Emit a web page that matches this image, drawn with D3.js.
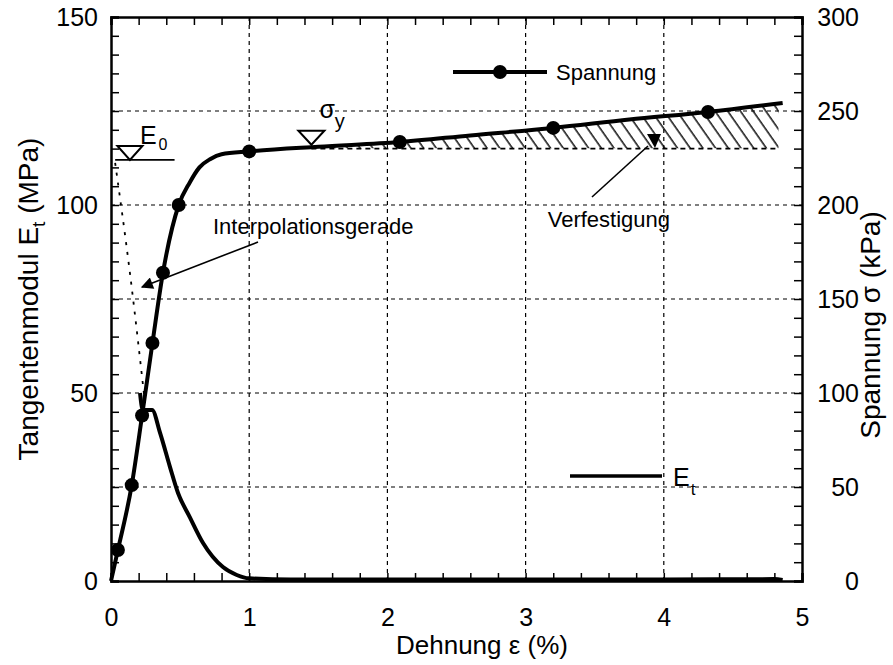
<!DOCTYPE html>
<html>
<head>
<meta charset="utf-8">
<script src="https://cdn.jsdelivr.net/npm/d3@7"></script>
<style>
  body { margin: 0; background: #fff; }
  text { font-family: "Liberation Sans", Arial, Helvetica, sans-serif; fill: #000; }
</style>
</head>
<body>
<div id="chart"></div>
<script>
// Spannung curve (strain %, stress kPa)
const sStrain = [0, 0.05, 0.15, 0.225, 0.30, 0.376, 0.49, 0.57, 0.64, 0.72, 0.80, 1.0, 1.5, 2.09, 2.6, 3.2, 3.75, 4.32, 4.86];
const sStress = [0, 16.5, 51, 88, 126.6, 164, 200, 212, 220, 224.5, 227, 228.5, 231, 233.5, 237, 241, 245.5, 249.5, 254.3];
// measured points with markers
const mStrain = [0.05, 0.15, 0.225, 0.30, 0.376, 0.49, 1.0, 2.09, 3.2, 4.32];
const mStress = [16.5, 51, 88, 126.6, 164, 200, 228.5, 233.5, 241, 249.5];
// tangent modulus (strain %, MPa)
const eStrain = [0.21, 0.23, 0.297, 0.355, 0.427, 0.485, 0.57, 0.666, 0.81, 0.91, 1.0, 1.3, 2, 3, 4, 4.8, 4.86];
const eModul = [50, 45.5, 45.5, 39.4, 30.3, 23.4, 17, 10.1, 3.7, 1.6, 0.7, 0.4, 0.4, 0.4, 0.4, 0.5, 0.3];
// interpolation line (dotted)
const iStrain = [0.03, 0.137, 0.246];
const iModul = [111.2, 81.9, 47.3];
// markers and hatched hardening zone
const e0 = 112, e0Strain = 0.137, e0LineFrom = 0.03, e0LineTo = 0.46;
const yieldStrain = 1.45, yieldStress = 230.5;
const hatchFrom = 1.45, hatchTo = 4.83, hatchBase = 230;

const xTicks = d3.range(0, 5.001, 0.2);
const xLabels = [0, 1, 2, 3, 4, 5];
const eTicks = d3.range(0, 150.1, 5);
const eLabels = [0, 50, 100, 150];
const sTicks = d3.range(0, 300.1, 10);
const sLabels = [0, 50, 100, 150, 200, 250, 300];
const gridX = [1, 2, 3, 4];
const gridS = [50, 100, 150, 200, 250];

const width = 893, height = 665;
const margin = {top: 17, right: 91, bottom: 84, left: 111};

const x = d3.scaleLinear().domain([0, 5]).range([margin.left, width - margin.right]);
const yE = d3.scaleLinear().domain([0, 150]).range([height - margin.bottom, margin.top]);
const yS = d3.scaleLinear().domain([0, 300]).range([height - margin.bottom, margin.top]);

const svg = d3.select("#chart").append("svg")
  .attr("width", width)
  .attr("height", height)
  .attr("viewBox", [0, 0, width, height]);

const defs = svg.append("defs");
defs.append("pattern")
    .attr("id", "hatch")
    .attr("patternUnits", "userSpaceOnUse")
    .attr("width", 10.4)
    .attr("height", 10.4)
    .attr("patternTransform", "rotate(-35)")
  .append("line")
    .attr("x1", 2).attr("y1", 0).attr("x2", 2).attr("y2", 10.4)
    .attr("stroke", "#000")
    .attr("stroke-width", 1.4);
defs.append("clipPath")
    .attr("id", "hatchClip")
  .append("rect")
    .attr("x", x(hatchFrom))
    .attr("y", margin.top)
    .attr("width", x(hatchTo) - x(hatchFrom))
    .attr("height", yS(hatchBase) - margin.top);
defs.append("marker")
    .attr("id", "arrow")
    .attr("viewBox", "0 -5 10 10")
    .attr("refX", 9)
    .attr("refY", 0)
    .attr("markerUnits", "userSpaceOnUse")
    .attr("markerWidth", 14)
    .attr("markerHeight", 12)
    .attr("orient", "auto")
  .append("path")
    .attr("d", "M0,-5L10,0L0,5Z")
    .attr("fill", "#000");

const x0 = margin.left, x1 = width - margin.right;
const y0 = height - margin.bottom, y1 = margin.top;

// grid
svg.append("g")
    .attr("stroke", "#000")
    .attr("stroke-width", 1.2)
    .attr("stroke-dasharray", "4,4")
  .call(g => g.selectAll(".gx")
    .data(gridX)
    .join("line")
      .attr("x1", d => x(d)).attr("x2", d => x(d))
      .attr("y1", y0).attr("y2", y1))
  .call(g => g.selectAll(".gy")
    .data(gridS)
    .join("line")
      .attr("x1", x0).attr("x2", x1)
      .attr("y1", d => yS(d)).attr("y2", d => yS(d)));

// hatched zone
const sData = sStrain.map((d, i) => ({x: d, y: sStress[i]}));
svg.append("path")
  .datum(sData)
  .attr("clip-path", "url(#hatchClip)")
  .attr("fill", "url(#hatch)")
  .attr("d", d3.area().curve(d3.curveMonotoneX)
    .x(d => x(d.x)).y0(yS(hatchBase)).y1(d => yS(d.y)));
svg.append("line")
  .attr("x1", x(hatchFrom)).attr("x2", x(hatchTo))
  .attr("y1", yS(hatchBase)).attr("y2", yS(hatchBase))
  .attr("stroke", "#000")
  .attr("stroke-width", 1.6)
  .attr("stroke-dasharray", "5,4");

// interpolation line
svg.append("path")
  .datum(iStrain.map((d, i) => ({x: d, y: iModul[i]})))
  .attr("fill", "none")
  .attr("stroke", "#000")
  .attr("stroke-width", 1.8)
  .attr("stroke-dasharray", "3,7")
  .attr("d", d3.line().curve(d3.curveMonotoneX).x(d => x(d.x)).y(d => yE(d.y)));

// E_t curve
svg.append("path")
  .datum(eStrain.map((d, i) => ({x: d, y: eModul[i]})))
  .attr("fill", "none")
  .attr("stroke", "#000")
  .attr("stroke-width", 4)
  .attr("stroke-linejoin", "round")
  .attr("d", d3.line().curve(d3.curveMonotoneX).x(d => x(d.x)).y(d => yE(d.y)));

// Spannung curve
svg.append("path")
  .datum(sData)
  .attr("fill", "none")
  .attr("stroke", "#000")
  .attr("stroke-width", 4)
  .attr("stroke-linejoin", "round")
  .attr("d", d3.line().curve(d3.curveMonotoneX).x(d => x(d.x)).y(d => yS(d.y)));

svg.append("g")
  .selectAll("circle")
  .data(mStrain.map((d, i) => ({x: d, y: mStress[i]})))
  .join("circle")
    .attr("cx", d => x(d.x))
    .attr("cy", d => yS(d.y))
    .attr("r", 7)
    .attr("fill", "#000");

// axes with inward ticks
const axisStyle = g => g
  .call(g => g.selectAll(".tick line").attr("stroke-width", 1.5))
  .call(g => g.selectAll("text").attr("font-size", 25))
  .call(g => g.select(".domain").attr("stroke-width", 2.5));

svg.append("g")
  .attr("transform", `translate(0,${y0})`)
  .call(d3.axisBottom(x).tickValues(xTicks).tickSize(-8).tickPadding(27)
    .tickFormat(d => xLabels.some(v => Math.abs(v - d) < 1e-6) ? d3.format("d")(d) : ""))
  .call(axisStyle);
svg.append("g")
  .attr("transform", `translate(0,${y1})`)
  .call(d3.axisTop(x).tickValues(xTicks).tickSize(-8).tickFormat(""))
  .call(axisStyle);
svg.append("g")
  .attr("transform", `translate(${x0},0)`)
  .call(d3.axisLeft(yE).tickValues(eTicks).tickSize(-8).tickPadding(13)
    .tickFormat(d => eLabels.includes(d) ? d : ""))
  .call(axisStyle);
svg.append("g")
  .attr("transform", `translate(${x1},0)`)
  .call(d3.axisRight(yS).tickValues(sTicks).tickSize(-8)
    .tickFormat(d => sLabels.includes(d) ? d : ""))
  .call(axisStyle)
  .call(g => g.selectAll("text").attr("text-anchor", "end").attr("x", 57));

// axis titles
svg.append("text")
  .attr("x", 482)
  .attr("y", 654)
  .attr("text-anchor", "middle")
  .attr("font-size", 26)
  .text("Dehnung \u03b5  (%)");

const leftTitle = svg.append("text")
  .attr("transform", `translate(38,${299}) rotate(-90)`)
  .attr("text-anchor", "middle")
  .attr("font-size", 28);
leftTitle.append("tspan").text("Tangentenmodul E");
leftTitle.append("tspan").attr("font-size", 19).attr("dy", 7).text("t");
leftTitle.append("tspan").attr("dy", -7).text(" (MPa)");

svg.append("text")
  .attr("transform", `translate(880,${325}) rotate(-90)`)
  .attr("text-anchor", "middle")
  .attr("font-size", 28)
  .text("Spannung \u03c3  (kPa)");

// open triangle markers
const tri = (w, h) => `M${-w / 2},${-h}L${w / 2},${-h}L0,0Z`;
svg.append("path")
  .attr("transform", `translate(${x(e0Strain)},${yE(e0)})`)
  .attr("d", tri(25, 14))
  .attr("fill", "#fff")
  .attr("stroke", "#000")
  .attr("stroke-width", 2);
svg.append("line")
  .attr("x1", x(e0LineFrom)).attr("x2", x(e0LineTo))
  .attr("y1", yE(e0)).attr("y2", yE(e0))
  .attr("stroke", "#000")
  .attr("stroke-width", 1.6);
const e0Label = svg.append("text")
  .attr("x", x(e0Strain) + 10)
  .attr("y", yE(e0) - 16)
  .attr("font-size", 25);
e0Label.append("tspan").text("E");
e0Label.append("tspan").attr("font-size", 16).attr("dy", 6).attr("dx", 2).text("0");

svg.append("path")
  .attr("transform", `translate(${x(yieldStrain)},${yS(yieldStress) - 3})`)
  .attr("d", tri(26, 14))
  .attr("fill", "#fff")
  .attr("stroke", "#000")
  .attr("stroke-width", 2);
const yLabel = svg.append("text")
  .attr("x", x(yieldStrain) + 8)
  .attr("y", yS(yieldStress) - 30)
  .attr("font-size", 25);
yLabel.append("tspan").text("\u03c3");
yLabel.append("tspan").attr("font-size", 20).attr("dy", 10).text("y");

// annotations
svg.append("text")
  .attr("x", 213)
  .attr("y", 234)
  .attr("font-size", 22)
  .text("Interpolationsgerade");
svg.append("line")
  .attr("x1", 258).attr("y1", 242)
  .attr("x2", 142).attr("y2", 287)
  .attr("stroke", "#000")
  .attr("stroke-width", 1.6)
  .attr("marker-end", "url(#arrow)");

svg.append("text")
  .attr("x", 670)
  .attr("y", 227)
  .attr("text-anchor", "end")
  .attr("font-size", 22)
  .text("Verfestigung");
svg.append("line")
  .attr("x1", 592).attr("y1", 197)
  .attr("x2", 648).attr("y2", 146)
  .attr("stroke", "#000")
  .attr("stroke-width", 1.6);
svg.append("path")
  .attr("d", "M647,134L661,134L655,148Z")
  .attr("fill", "#000");

// legend
const legend = svg.append("g");
legend.append("line")
  .attr("x1", 453).attr("x2", 547).attr("y1", 72).attr("y2", 72)
  .attr("stroke", "#000").attr("stroke-width", 4);
legend.append("circle")
  .attr("cx", 500).attr("cy", 72).attr("r", 7).attr("fill", "#000");
legend.append("text")
  .attr("x", 556).attr("y", 72).attr("dy", "0.35em")
  .attr("font-size", 22)
  .text("Spannung");
legend.append("line")
  .attr("x1", 570).attr("x2", 662).attr("y1", 476).attr("y2", 476)
  .attr("stroke", "#000").attr("stroke-width", 3.5);
const etLabel = legend.append("text")
  .attr("x", 673).attr("y", 486)
  .attr("font-size", 25);
etLabel.append("tspan").text("E");
etLabel.append("tspan").attr("font-size", 17).attr("dy", 9).attr("dx", 1).text("t");
</script>
</body>
</html>
